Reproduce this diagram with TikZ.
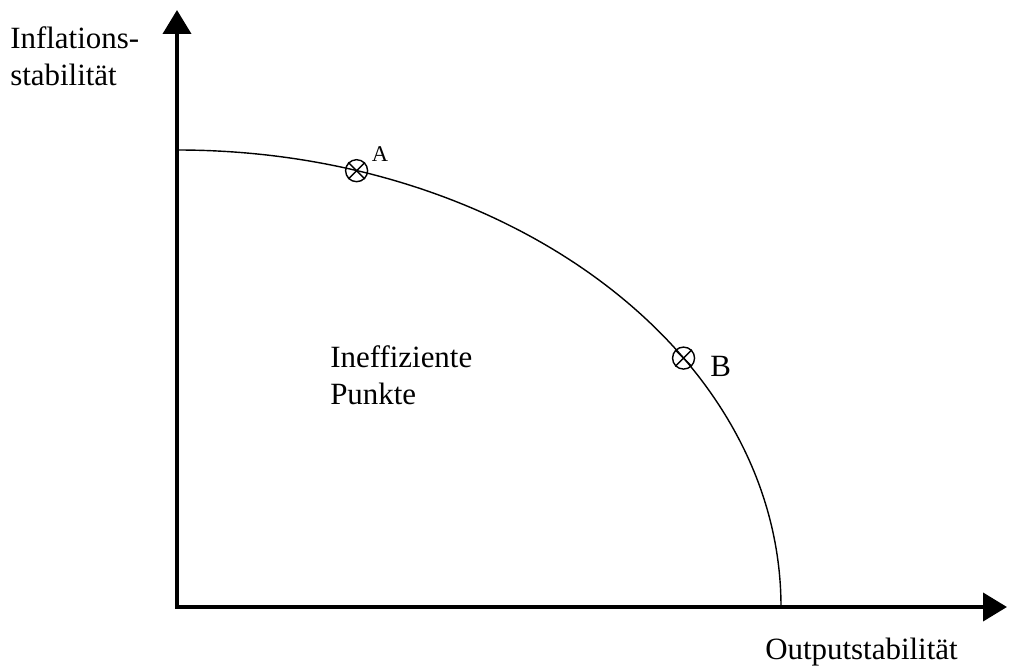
\documentclass[tikz,border=0pt]{standalone}
\usepackage{fontspec}
\setmainfont{Liberation Serif}
\usetikzlibrary{arrows.meta,positioning,calc}
\tikzset{
  axis/.style={line width=2.8pt, -{Triangle[length=6mm,width=7mm]}},
  pointmark/.style={draw, circle, line width=1pt, minimum size=5.5mm, inner sep=0pt},
  label text/.style={font=\fontsize{22}{26}\selectfont, inner sep=0pt, align=left}
}
\begin{document}
\begin{tikzpicture}
  \useasboundingbox (0,0) rectangle (25.225,16.65);
  % axes
  \coordinate (O) at (4.425,1.475);
  \coordinate (ytip) at (4.425,16.4);
  \coordinate (xtip) at (25.175,1.475);
  \draw[axis] ([yshift=-1.4pt]O) -- (ytip);
  \draw[axis] ([xshift=-1.4pt]O) -- (xtip);
  \node[label text, anchor=west] (ylab) at (0.25,15.25) {Inflations-\\stabilität};
  \node[label text, anchor=west] (xlab) at (19.125,0.35) {Outputstabilität};
  % frontier
  \draw[line width=1pt] (4.425,12.9) arc[start angle=90, end angle=0, x radius=15.1cm, y radius=11.425cm];
  % points on the frontier
  \node[pointmark] (A) at ($(O)+(72.7:15.1cm and 11.425cm)$) {};
  \node[pointmark] (B) at ($(O)+(33:15.1cm and 11.425cm)$) {};
  \foreach \p in {A,B}{%
    \draw[line width=1pt] (\p.north east) -- (\p.south west) (\p.north west) -- (\p.south east);}
  \node[font=\fontsize{16}{19}\selectfont, inner sep=0pt] (Alab) at (9.5,12.8) {A};
  \node[label text, anchor=west] (Blab) at (17.75,7.5) {B};
  \node[label text, anchor=west] (inef) at (8.25,7.275) {Ineffiziente\\Punkte};
\end{tikzpicture}
\end{document}
